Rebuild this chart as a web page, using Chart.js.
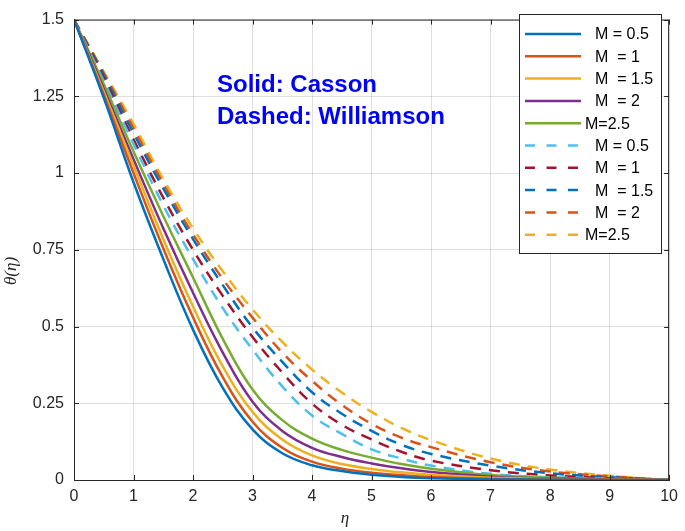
<!DOCTYPE html>
<html>
<head>
<meta charset="utf-8">
<script src="https://cdn.jsdelivr.net/npm/chart.js@4/dist/chart.umd.min.js"></script>
<style>
  html, body { margin: 0; padding: 0; background: #fff; }
  #wrap { width: 685px; height: 531px; }
</style>
</head>
<body>
<div id="wrap"><canvas id="thetaChart" width="685" height="531"></canvas></div>
<script>
const eta = [0, 0.5, 1, 1.5, 2, 2.5, 3, 3.5, 4, 4.5, 5, 5.5, 6, 7, 8, 9, 10];
const xTicks = [0, 1, 2, 3, 4, 5, 6, 7, 8, 9, 10];
const yTicks = [0, 0.25, 0.5, 0.75, 1, 1.25, 1.5];

const cassonLabels = ["M = 0.5", "M  = 1", "M  = 1.5", "M  = 2", "M=2.5"];
const williamsonLabels = ["M = 0.5", "M  = 1", "M  = 1.5", "M  = 2", "M=2.5"];

// Solid: Casson
const casson05 = [1.5, 1.245, 0.97, 0.72, 0.49, 0.3, 0.165, 0.087, 0.048, 0.029, 0.017, 0.01, 0.006, 0.002, 0.001, 0, 0];
const casson1  = [1.5, 1.255, 1.0, 0.755, 0.53, 0.335, 0.19, 0.105, 0.06, 0.037, 0.024, 0.016, 0.01, 0.004, 0.002, 0.001, 0];
const casson15 = [1.5, 1.265, 1.025, 0.785, 0.565, 0.37, 0.222, 0.132, 0.08, 0.052, 0.036, 0.025, 0.017, 0.007, 0.003, 0.001, 0];
const casson2  = [1.5, 1.275, 1.045, 0.82, 0.61, 0.415, 0.255, 0.16, 0.105, 0.075, 0.054, 0.038, 0.026, 0.011, 0.005, 0.002, 0];
const casson25 = [1.5, 1.29, 1.07, 0.86, 0.66, 0.46, 0.295, 0.195, 0.135, 0.098, 0.073, 0.052, 0.037, 0.016, 0.007, 0.003, 0];

// Dashed: Williamson
const will05 = [1.5, 1.30, 1.095, 0.895, 0.72, 0.56, 0.425, 0.305, 0.21, 0.15, 0.10, 0.07, 0.047, 0.02, 0.009, 0.004, 0];
const will1  = [1.5, 1.31, 1.11, 0.92, 0.75, 0.6, 0.466, 0.35, 0.249, 0.18, 0.132, 0.092, 0.063, 0.032, 0.015, 0.006, 0];
const will15 = [1.5, 1.32, 1.13, 0.95, 0.785, 0.635, 0.497, 0.385, 0.286, 0.216, 0.16, 0.115, 0.085, 0.047, 0.022, 0.009, 0];
const will2  = [1.5, 1.325, 1.145, 0.965, 0.8, 0.655, 0.529, 0.415, 0.323, 0.245, 0.183, 0.138, 0.107, 0.058, 0.028, 0.012, 0];
const will25 = [1.5, 1.33, 1.16, 0.98, 0.82, 0.68, 0.556, 0.45, 0.36, 0.285, 0.222, 0.17, 0.13, 0.07, 0.034, 0.014, 0];

const cassonSeries = [casson05, casson1, casson15, casson2, casson25];
const williamsonSeries = [will05, will1, will15, will2, will25];

const cassonColors = ["#0072BD", "#D95319", "#EDB120", "#7E2F8E", "#77AC30"];
const williamsonColors = ["#4DBEEE", "#A2142F", "#0072BD", "#D95319", "#EDB120"];

const toPoints = (ys) => ys.map((y, i) => ({ x: eta[i], y: y }));

const datasets = [];
cassonSeries.forEach((ys, i) => {
  datasets.push({
    label: cassonLabels[i],
    data: toPoints(ys),
    borderColor: cassonColors[i],
    borderWidth: 2.5,
    pointRadius: 0,
    fill: false,
    tension: 0.4,
  });
});
williamsonSeries.forEach((ys, i) => {
  datasets.push({
    label: williamsonLabels[i],
    data: toPoints(ys),
    borderColor: williamsonColors[i],
    borderWidth: 2.5,
    borderDash: [11, 8],
    pointRadius: 0,
    fill: false,
    tension: 0.4,
  });
});

const axisColor = "#262626";

// box, inward ticks, legend, text notes and axis labels (MATLAB look)
const matlabDecor = {
  id: "matlabDecor",
  afterDatasetsDraw(chart) {
    const { ctx, chartArea: a, scales } = chart;
    ctx.save();

    // frame
    ctx.strokeStyle = axisColor;
    ctx.lineWidth = 1;
    ctx.strokeRect(a.left + 0.5, a.top + 0.5, a.right - a.left - 1, a.bottom - a.top);

    // inward ticks on all four sides
    ctx.beginPath();
    xTicks.forEach((v) => {
      const px = Math.round(scales.x.getPixelForValue(v)) + 0.5;
      ctx.moveTo(px, a.bottom); ctx.lineTo(px, a.bottom - 5);
      ctx.moveTo(px, a.top); ctx.lineTo(px, a.top + 5);
    });
    yTicks.forEach((v) => {
      const py = Math.round(scales.y.getPixelForValue(v)) + 0.5;
      ctx.moveTo(a.left, py); ctx.lineTo(a.left + 5, py);
      ctx.moveTo(a.right, py); ctx.lineTo(a.right - 5, py);
    });
    ctx.stroke();

    // notes
    ctx.fillStyle = "#0000FF";
    ctx.font = "bold 24px 'Liberation Sans', Arial, sans-serif";
    ctx.textBaseline = "alphabetic";
    ctx.textAlign = "left";
    ctx.fillText("Solid: Casson", 217, 92);
    ctx.fillText("Dashed: Williamson", 217, 124);

    // legend box
    const lx = 519, ly = 14, lw = 142, lh = 239;
    ctx.fillStyle = "#ffffff";
    ctx.fillRect(lx, ly, lw, lh);
    ctx.strokeStyle = axisColor;
    ctx.strokeRect(lx + 0.5, ly + 0.5, lw, lh);
    ctx.font = "16px 'Liberation Sans', Arial, sans-serif";
    ctx.textBaseline = "middle";
    chart.data.datasets.forEach((ds, i) => {
      const y = 34 + i * 22.3;
      ctx.beginPath();
      ctx.strokeStyle = ds.borderColor;
      ctx.lineWidth = 2.5;
      ctx.setLineDash(ds.borderDash ? [10, 11.5] : []);
      ctx.moveTo(525, y);
      ctx.lineTo(ds.borderDash ? 578 : 581, y);
      ctx.stroke();
      ctx.setLineDash([]);
      ctx.fillStyle = "#000000";
      ctx.fillText(ds.label, ds.label.startsWith("M=") ? 585 : 595, y + 1);
    });

    // axis labels
    ctx.fillStyle = axisColor;
    ctx.font = "italic 17px 'Liberation Serif', 'Times New Roman', serif";
    ctx.textAlign = "center";
    ctx.fillText("\u03b7", 345, 519);
    ctx.translate(12, 271);
    ctx.rotate(-Math.PI / 2);
    ctx.fillText("\u03b8(\u03b7)", 0, 0);

    ctx.restore();
  },
};

new Chart(document.getElementById("thetaChart").getContext("2d"), {
  type: "line",
  data: { datasets: datasets },
  options: {
    responsive: false,
    animation: false,
    layout: { padding: { left: 0, right: 10, top: 7, bottom: 0 } },
    plugins: {
      legend: { display: false },
      tooltip: { enabled: false },
    },
    scales: {
      x: {
        type: "linear",
        min: 0,
        max: 10,
        afterBuildTicks: (s) => { s.ticks = xTicks.map((v) => ({ value: v })); },
        afterFit: (s) => { s.height = 51; },
        grid: { color: "rgba(38,38,38,0.15)", drawTicks: false },
        border: { color: axisColor },
        ticks: {
          color: axisColor,
          padding: 7,
          maxRotation: 0,
          callback: (v) => String(v),
          font: { family: "'Liberation Sans', Arial, sans-serif", size: 16 },
        },
      },
      y: {
        min: 0,
        max: 1.5,
        afterBuildTicks: (s) => { s.ticks = yTicks.map((v) => ({ value: v })); },
        afterFit: (s) => { s.width = 74; },
        grid: { color: "rgba(38,38,38,0.15)", drawTicks: false },
        border: { color: axisColor },
        ticks: {
          color: axisColor,
          padding: 10,
          callback: (v) => String(v),
          font: { family: "'Liberation Sans', Arial, sans-serif", size: 16 },
        },
      },
    },
  },
  plugins: [matlabDecor],
});
</script>
</body>
</html>
